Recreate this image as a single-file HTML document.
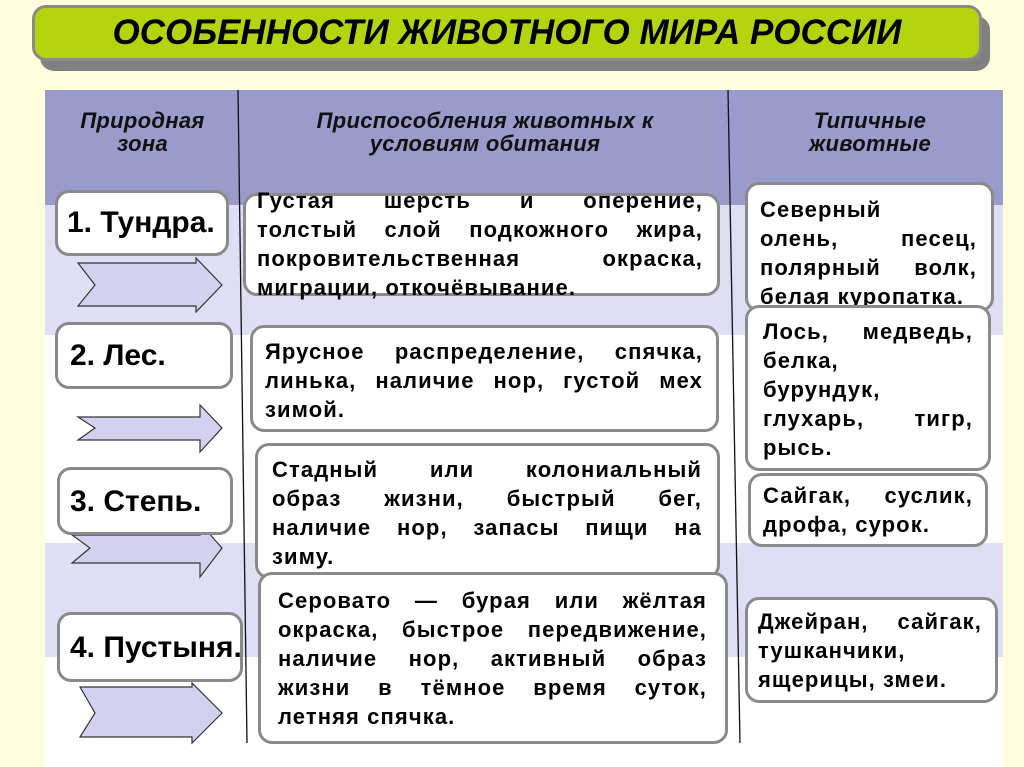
<!DOCTYPE html>
<html><head><meta charset="utf-8"><style>
*{margin:0;padding:0;box-sizing:border-box}
body{width:1024px;height:767px;background:#fffddc;position:relative;overflow:hidden;font-family:"Liberation Sans",Arial,sans-serif;font-weight:bold;color:#000}
.a{position:absolute}
.band{position:absolute;left:45px;width:958px}
.box{position:absolute;background:#fff;border:3px solid #8a8a8a;border-radius:14px}
.t{position:absolute;font-size:22px;line-height:29px;letter-spacing:1.1px}
.t div{text-align:justify;text-align-last:justify;white-space:nowrap}
.t div.l{text-align-last:left}
.z{position:absolute;font-size:30px;line-height:32px}
.h{position:absolute;font-style:italic;font-size:22px;line-height:23px;text-align:center;color:#111;letter-spacing:0.3px}
</style></head><body>
<div class="a" style="left:40px;top:16px;width:950px;height:55px;background:#808080;border-radius:14px"></div>
<div class="a" style="left:32px;top:5px;width:950px;height:56px;background:#b6d40e;border:3px solid #8a8a8a;border-radius:14px"></div>
<div class="a" style="left:32px;top:11px;width:950px;text-align:center;font-size:35px;font-style:italic;line-height:44px">ОСОБЕННОСТИ ЖИВОТНОГО МИРА РОССИИ</div>

<div class="band" style="top:90px;height:115px;background:#9a9acb"></div>
<div class="band" style="top:205px;height:130px;background:#dedef5"></div>
<div class="band" style="top:335px;height:208px;background:#fff"></div>
<div class="band" style="top:543px;height:114px;background:#dedef5"></div>
<div class="band" style="top:657px;height:110px;background:#fff"></div>

<svg class="a" style="left:0;top:0" width="1024" height="767">
<line x1="238" y1="90" x2="247" y2="743" stroke="#111" stroke-width="1.3"/>
<line x1="728" y1="90" x2="740" y2="743" stroke="#111" stroke-width="1.3"/>
<g fill="#d2d2f0" stroke="#333" stroke-width="1.2">
<polygon points="78,263 196,263 196,258 222,285 196,312 196,306 78,306 95,285"/>
<polygon points="78,417 200,417 200,405 222,428 200,452 200,440 78,440 95,428"/>
<polygon points="72,535 200,535 200,523 222,548 200,577 200,563 72,563 90,548"/>
<polygon points="80,687 192,687 192,683 222,713 192,743 192,737 80,737 95,713"/>
</g>
</svg>

<div class="h" style="left:50px;top:109px;width:185px">Природная<br>зона</div>
<div class="h" style="left:245px;top:109px;width:480px">Приспособления животных к<br>условиям обитания</div>
<div class="h" style="left:735px;top:109px;width:270px">Типичные<br>животные</div>

<div class="box" style="left:55px;top:190px;width:174px;height:66px"></div>
<div class="z" style="left:67px;top:207px">1. Тундра.</div>
<div class="box" style="left:55px;top:322px;width:178px;height:67px"></div>
<div class="z" style="left:70px;top:340px">2. Лес.</div>
<div class="box" style="left:57px;top:467px;width:176px;height:68px"></div>
<div class="z" style="left:70px;top:486px">3. Степь.</div>
<div class="box" style="left:57px;top:612px;width:186px;height:70px"></div>
<div class="z" style="left:70px;top:632px">4. Пустыня.</div>

<div class="box" style="left:243px;top:193px;width:477px;height:103px"></div>
<div class="t" style="left:257px;top:186px;width:446px"><div>Густая шерсть и оперение,</div><div>толстый слой подкожного жира,</div><div>покровительственная окраска,</div><div class="l">миграции, откочёвывание.</div></div>
<div class="box" style="left:250px;top:325px;width:469px;height:107px"></div>
<div class="t" style="left:265px;top:337px;width:438px"><div>Ярусное распределение, спячка,</div><div>линька, наличие нор, густой мех</div><div class="l">зимой.</div></div>
<div class="box" style="left:255px;top:443px;width:465px;height:136px"></div>
<div class="t" style="left:272px;top:455px;width:430px"><div>Стадный или колониальный</div><div>образ жизни, быстрый бег,</div><div>наличие нор, запасы пищи на</div><div class="l">зиму.</div></div>
<div class="box" style="left:258px;top:572px;width:470px;height:172px"></div>
<div class="t" style="left:278px;top:586px;width:429px"><div>Серовато — бурая или жёлтая</div><div>окраска, быстрое передвижение,</div><div>наличие нор, активный образ</div><div>жизни в тёмное время суток,</div><div class="l">летняя спячка.</div></div>

<div class="box" style="left:745px;top:182px;width:249px;height:130px"></div>
<div class="t" style="left:760px;top:195px;width:217px"><div class="l">Северный</div><div>олень, песец,</div><div>полярный волк,</div><div class="l">белая куропатка.</div></div>
<div class="box" style="left:745px;top:305px;width:246px;height:166px"></div>
<div class="t" style="left:763px;top:317px;width:210px"><div>Лось, медведь,</div><div class="l">белка,</div><div class="l">бурундук,</div><div>глухарь, тигр,</div><div class="l">рысь.</div></div>
<div class="box" style="left:748px;top:473px;width:240px;height:74px"></div>
<div class="t" style="left:763px;top:481px;width:210px"><div>Сайгак, суслик,</div><div class="l">дрофа, сурок.</div></div>
<div class="box" style="left:745px;top:597px;width:253px;height:106px"></div>
<div class="t" style="left:758px;top:607px;width:224px"><div>Джейран, сайгак,</div><div class="l">тушканчики,</div><div class="l">ящерицы, змеи.</div></div>
</body></html>
